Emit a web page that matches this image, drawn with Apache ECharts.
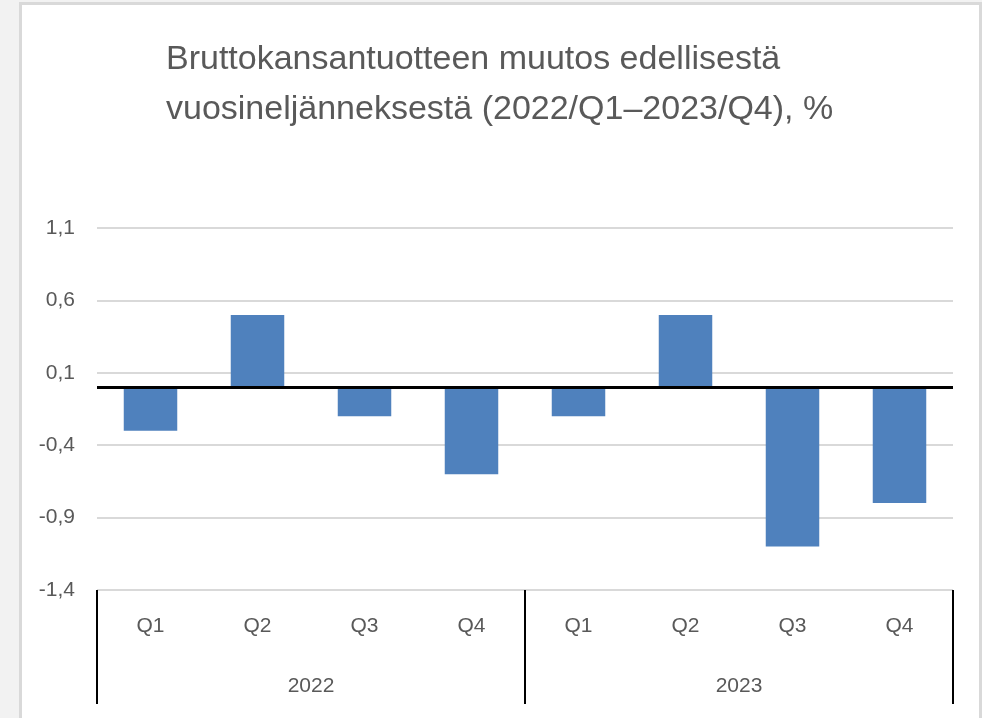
<!DOCTYPE html>
<html>
<head>
<meta charset="utf-8">
<script src="https://cdn.jsdelivr.net/npm/echarts@6/dist/echarts.min.js"></script>
<style>
  html, body { margin: 0; padding: 0; background: #f2f2f2; }
  #frame {
    position: absolute; left: 19px; top: 2px; width: 957px; height: 730px;
    border: 3px solid #d9d9d9; border-bottom: none; background: #fff;
  }
  #chart { position: absolute; left: 0; top: 0; width: 982px; height: 718px; }
</style>
</head>
<body>
<div id="frame"></div>
<div id="chart"></div>
<script>
// quarters and years (two level category axis)
var quarters = ['Q1', 'Q2', 'Q3', 'Q4', 'Q1', 'Q2', 'Q3', 'Q4'];
var years = ['2022', '2023'];
// GDP change from previous quarter, %
var gdpChange = [-0.3, 0.5, -0.2, -0.6, -0.2, 0.5, -1.1, -0.8];
var yMin = -1.4;
var yMax = 1.1;
var yStep = 0.5;

var font = 'Liberation Sans';
var grey = '#595959';

var chart = echarts.init(document.getElementById('chart'));
chart.setOption({
  animation: false,
  title: {
    text: 'Bruttokansantuotteen muutos edellisestä\nvuosineljänneksestä (2022/Q1\u20132023/Q4), %',
    left: 161,
    top: 30,
    textStyle: {
      color: grey,
      fontFamily: font,
      fontWeight: 'normal',
      fontSize: 34,
      lineHeight: 50,
    },
  },
  grid: {
    left: 97,
    right: 29,
    top: 228,
    bottom: 128,
  },
  xAxis: [
    {
      type: 'category',
      data: quarters,
      axisLine: { show: false },
      axisTick: { show: false },
      axisLabel: {
        interval: 0,
        margin: 26,
        color: grey,
        fontFamily: font,
        fontSize: 21,
      },
    },
    {
      type: 'category',
      data: years,
      position: 'bottom',
      axisLine: { show: false },
      axisTick: {
        show: true,
        length: 114,
        lineStyle: { color: '#000', width: 2 },
      },
      axisLabel: {
        interval: 0,
        margin: 86,
        color: grey,
        fontFamily: font,
        fontSize: 21,
      },
      splitLine: { show: false },
    },
  ],
  yAxis: {
    type: 'value',
    min: yMin,
    max: yMax,
    interval: yStep,
    axisLine: { show: false },
    axisTick: { show: false },
    splitLine: {
      lineStyle: { color: '#d9d9d9', width: 2 },
    },
    axisLabel: {
      margin: 22,
      color: grey,
      fontFamily: font,
      fontSize: 21,
      formatter: function (v) {
        return v.toFixed(1).replace('.', ',');
      },
    },
  },
  series: [
    {
      type: 'bar',
      data: gdpChange,
      barWidth: '50%',
      itemStyle: { color: '#4f81bd' },
      markLine: {
        silent: true,
        symbol: 'none',
        label: { show: false },
        lineStyle: { color: '#000', width: 3, type: 'solid' },
        data: [{ yAxis: 0 }],
      },
    },
  ],
});
</script>
</body>
</html>
